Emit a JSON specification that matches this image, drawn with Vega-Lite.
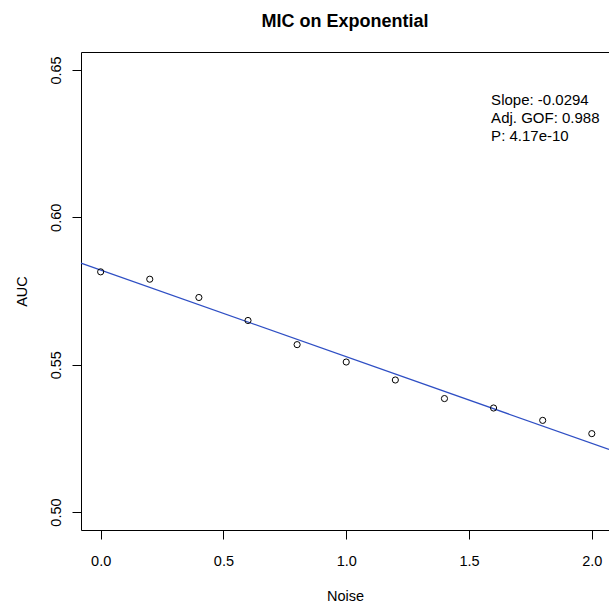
{
  "$schema": "https://vega.github.io/schema/vega-lite/v6.json",
  "width": 528,
  "height": 478,
  "autosize": "none",
  "padding": {"left": 81, "top": 52, "right": 0, "bottom": 77},
  "background": "white",
  "config": {
    "view": {"stroke": null},
    "font": "Liberation Sans",
    "axis": {"grid": false}
  },
  "title": {
    "text": "MIC on Exponential",
    "font": "Liberation Sans",
    "fontSize": 18,
    "fontWeight": "bold",
    "color": "black",
    "anchor": "middle",
    "baseline": "alphabetic",
    "offset": 7
  },
  "datasets": {
    "auc": [
      {"Noise": 0.0, "AUC": 0.5815},
      {"Noise": 0.2, "AUC": 0.5790},
      {"Noise": 0.4, "AUC": 0.5728},
      {"Noise": 0.6, "AUC": 0.5650},
      {"Noise": 0.8, "AUC": 0.5568},
      {"Noise": 1.0, "AUC": 0.5509},
      {"Noise": 1.2, "AUC": 0.5448},
      {"Noise": 1.4, "AUC": 0.5385},
      {"Noise": 1.6, "AUC": 0.5353},
      {"Noise": 1.8, "AUC": 0.5311},
      {"Noise": 2.0, "AUC": 0.5266}
    ],
    "fit": [
      {"Noise": -0.08, "AUC": 0.584452},
      {"Noise": 2.07, "AUC": 0.521242}
    ],
    "stats": [
      {"Noise": 1.59, "AUC": 0.63795, "label": "Slope: -0.0294"},
      {"Noise": 1.59, "AUC": 0.63184, "label": "Adj. GOF: 0.988"},
      {"Noise": 1.59, "AUC": 0.62573, "label": "P: 4.17e-10"}
    ]
  },
  "layer": [
    {
      "data": {"name": "fit"},
      "mark": {"type": "line", "color": "#2f4fc4", "strokeWidth": 1.2},
      "encoding": {
        "x": {
          "field": "Noise",
          "type": "quantitative",
          "scale": {"domain": [-0.08, 2.07], "nice": false, "zero": false},
          "axis": {
            "orient": "top",
            "labels": false,
            "ticks": false,
            "title": null,
            "domainColor": "black",
            "domainWidth": 1
          }
        },
        "y": {
          "field": "AUC",
          "type": "quantitative",
          "scale": {"domain": [0.4939, 0.6561], "nice": false, "zero": false},
          "axis": null
        }
      }
    },
    {
      "data": {"name": "auc"},
      "mark": {"type": "point", "shape": "circle", "filled": false, "stroke": "black", "strokeWidth": 1, "size": 38, "opacity": 1},
      "encoding": {
        "x": {
          "field": "Noise",
          "type": "quantitative",
          "axis": {
            "orient": "bottom",
            "values": [0, 0.5, 1, 1.5, 2],
            "format": ".1f",
            "tickSize": 9,
            "tickColor": "black",
            "domainColor": "black",
            "labelFont": "Liberation Sans",
            "labelFontSize": 14.5,
            "labelColor": "black",
            "labelBaseline": "alphabetic",
            "labelPadding": 26,
            "labelFlush": false,
            "labelOverlap": false,
            "title": "Noise",
            "titleFont": "Liberation Sans",
            "titleFontSize": 14.5,
            "titleFontWeight": "normal",
            "titleColor": "black",
            "titleBaseline": "alphabetic",
            "titleY": 70
          }
        },
        "y": {
          "field": "AUC",
          "type": "quantitative",
          "axis": {
            "values": [0.5, 0.55, 0.6, 0.65],
            "format": ".2f",
            "tickSize": 9,
            "tickColor": "black",
            "domainColor": "black",
            "labelFont": "Liberation Sans",
            "labelFontSize": 14.5,
            "labelColor": "black",
            "labelAngle": -90,
            "labelAlign": "center",
            "labelBaseline": "alphabetic",
            "labelPadding": 12,
            "labelOverlap": false,
            "title": "AUC",
            "titleFont": "Liberation Sans",
            "titleFontSize": 14.5,
            "titleFontWeight": "normal",
            "titleColor": "black",
            "titleAngle": -90,
            "titleAlign": "center",
            "titleBaseline": "alphabetic",
            "titleX": -55,
            "titleY": 239
          }
        }
      }
    },
    {
      "data": {"name": "stats"},
      "mark": {"type": "text", "align": "left", "baseline": "alphabetic", "font": "Liberation Sans", "fontSize": 15, "color": "black"},
      "encoding": {
        "x": {"field": "Noise", "type": "quantitative", "axis": null},
        "y": {"field": "AUC", "type": "quantitative", "axis": null},
        "text": {"field": "label", "type": "nominal"}
      }
    }
  ],
  "resolve": {"axis": {"x": "independent", "y": "independent"}}
}
